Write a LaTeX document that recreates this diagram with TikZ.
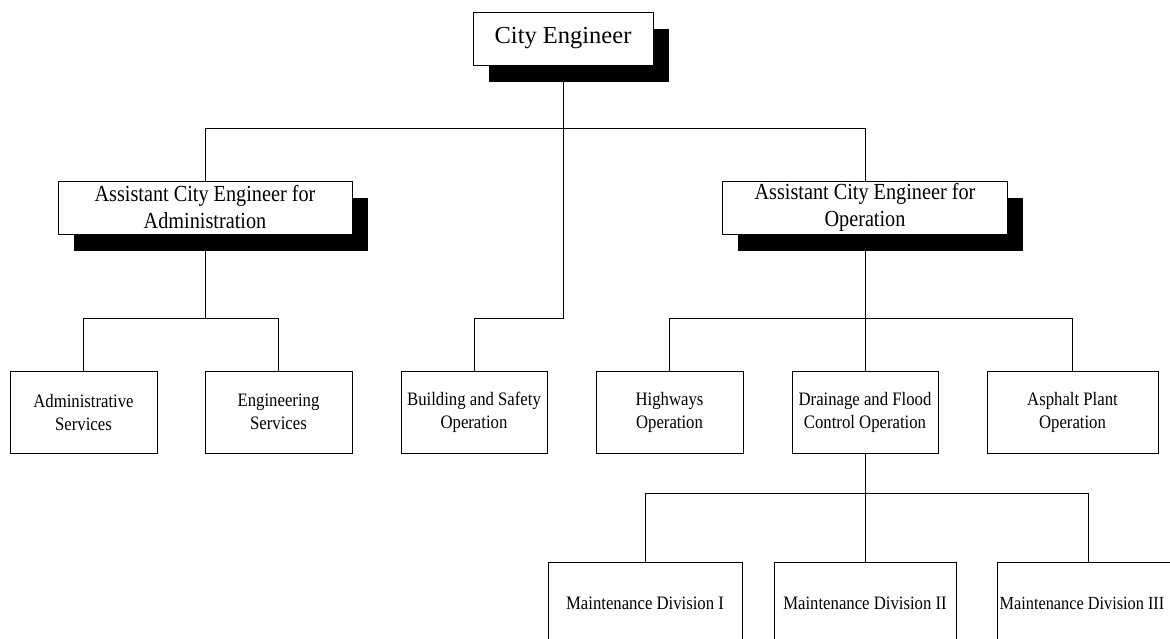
\documentclass[tikz,border=0pt]{standalone}
\usepackage{fontspec}
\setmainfont{Liberation Serif}
\newfontfamily\narrow[FakeStretch=0.88]{Liberation Serif}
\usetikzlibrary{shadows}

\tikzset{
  box/.style={draw=black, line width=0.9pt, fill=white, inner sep=0pt,
    align=center, minimum height=82pt, minimum width=147pt,
    font=\narrow\fontsize{19}{23}\selectfont},
  headbox/.style={box, minimum height=53pt,
    drop shadow={shadow xshift=15.5pt, shadow yshift=-17pt, fill=black, opacity=1}},
  link/.style={draw=black, line width=0.9pt}
}

\begin{document}
\begin{tikzpicture}[x=1pt, y=-1pt]
  \clip (0,0) rectangle (1170,639);
  \fill[white] (0,0) rectangle (1170,639);

  % junction levels of the connector bars
  \coordinate (j1) at (0,128);
  \coordinate (j2) at (0,318);
  \coordinate (j3) at (0,493);

  % heads
  \node[headbox, minimum width=180pt, font=\fontsize{24.5}{29}\selectfont]
    (ce) at (563,38.5) {City Engineer};
  \node[headbox, minimum width=294pt, font=\narrow\fontsize{23}{27}\selectfont]
    (aa) at (205,207.5) {Assistant City Engineer for\\Administration};
  \node[headbox, minimum width=285pt, font=\narrow\fontsize{23}{27}\selectfont]
    (ao) at (865,207.5) {Assistant City Engineer for\\Operation};

  % sections
  \node[box] (as) at (83.5,412) {Administrative\\Services};
  \node[box] (es) at (278.5,412) {Engineering\\Services};
  \node[box, minimum width=146pt] (bs) at (474,412) {Building and Safety\\Operation};
  \node[box] (hw) at (669.5,412) {Highways\\Operation};
  \node[box, minimum width=146pt] (dr) at (865,412) {Drainage and Flood\\Control Operation};
  \node[box, minimum width=171pt] (ap) at (1072.5,412) {Asphalt Plant\\Operation};

  % divisions
  \node[box, minimum width=194pt, minimum height=83pt] (m1) at (645,603.5) {Maintenance Division I};
  \node[box, minimum width=182pt, minimum height=83pt] (m2) at (865,603.5) {Maintenance Division II};
  \node[box, minimum width=182pt, minimum height=83pt,
        font=\narrow\fontsize{18.5}{22}\selectfont]
    (m3) at (1088,603.5) {Maintenance Division III\hspace*{12pt}};

  % connectors
  \draw[link] (aa.north) |- (ao.north |- j1) -- (ao.north);
  \draw[link] (ce.south) -- (ce.south |- j2) -| (bs.north);

  \draw[link] (aa.south) -- (aa.south |- j2);
  \draw[link] (as.north) |- (es.north |- j2) -- (es.north);

  \draw[link] (ao.south) -- (dr.north);
  \draw[link] (hw.north) |- (ap.north |- j2) -- (ap.north);

  \draw[link] (dr.south) -- (m2.north);
  \draw[link] (m1.north) |- (m3.north |- j3) -- (m3.north);
\end{tikzpicture}
\end{document}
